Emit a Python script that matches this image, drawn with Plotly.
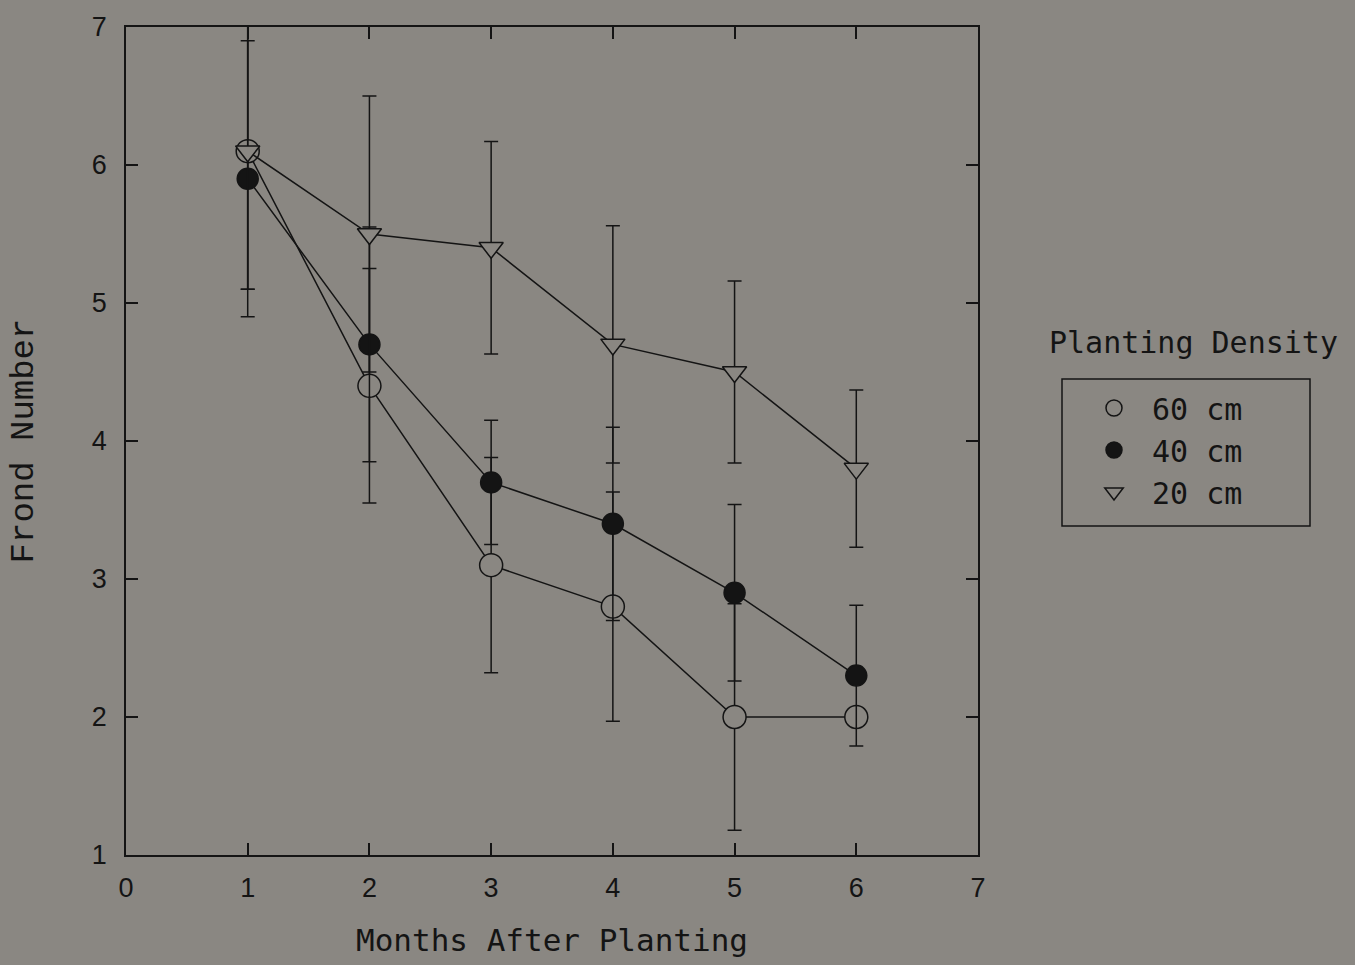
import plotly.graph_objects as go

months = [1, 2, 3, 4, 5, 6]
series_names = ["60 cm", "40 cm", "20 cm"]
frond_60 = [6.1, 4.4, 3.1, 2.8, 2.0, 2.0]
err_60 = [1.0, 0.85, 0.78, 0.83, 0.82, 0.0]
frond_40 = [5.9, 4.7, 3.7, 3.4, 2.9, 2.3]
err_40 = [1.0, 0.85, 0.45, 0.7, 0.64, 0.51]
frond_20 = [6.1, 5.5, 5.4, 4.7, 4.5, 3.8]
err_20 = [1.0, 1.0, 0.77, 0.86, 0.66, 0.57]
x_ticks = [0, 1, 2, 3, 4, 5, 6, 7]
y_ticks = [1, 2, 3, 4, 5, 6, 7]

BG = "#8a8782"
INK = "#141414"

W, H = 1355, 965
L, R, T, B = 126, 978, 27, 855


def px(xp):
    return (xp - L) / (R - L)


def py(yp):
    return (B - yp) / (B - T)


fig = go.Figure()
styles = [
    dict(symbol="circle", color=BG, size=23),
    dict(symbol="circle", color=INK, size=21),
    dict(symbol="triangle-down", color=BG, size=21),
]
for name, ys, es, st in zip(series_names, [frond_60, frond_40, frond_20],
                            [err_60, err_40, err_20], styles):
    fig.add_trace(go.Scatter(
        x=months, y=ys, name=name, mode="lines+markers", showlegend=False,
        line=dict(color=INK, width=1.5),
        marker=dict(symbol=st["symbol"], color=st["color"], size=st["size"],
                    line=dict(color=INK, width=1.5)),
        error_y=dict(type="data", array=es, visible=True, color=INK,
                     thickness=1.5, width=7),
    ))

# marker-only legend entries
for name, st in zip(series_names, styles):
    fig.add_trace(go.Scatter(
        x=[None], y=[None], name="\u00a0" + name, mode="markers",
        marker=dict(symbol=st["symbol"], color=st["color"], size=st["size"],
                    line=dict(color=INK, width=1.5)),
    ))

axis_common = dict(
    showline=True, linecolor=INK, linewidth=1.5, mirror="ticks",
    ticks="inside", ticklen=12, tickwidth=1.5, tickcolor=INK,
    showgrid=False, zeroline=False,
    tickfont=dict(family="Liberation Sans", size=27, color=INK),
)

fig.update_layout(
    width=W, height=H,
    margin=dict(l=L, r=W - R, t=T, b=H - B),
    paper_bgcolor=BG, plot_bgcolor=BG,
    xaxis=dict(range=[0, 7], tickvals=x_ticks, ticklabelstandoff=8,
               title=dict(text="Months After Planting", standoff=27,
                          font=dict(family="DejaVu Sans Mono", size=31, color=INK)),
               **axis_common),
    yaxis=dict(range=[1, 7], tickvals=y_ticks, ticklabelstandoff=12,
               title=dict(text="Frond Number", standoff=48,
                          font=dict(family="Liberation Mono", size=34, color=INK)),
               **axis_common),
    showlegend=True,
    legend=dict(
        x=px(1094), y=py(382), xanchor="left", yanchor="top",
        bgcolor="rgba(0,0,0,0)", borderwidth=0,
        font=dict(family="DejaVu Sans Mono", size=30, color=INK),
        itemclick=False,
    ),
    shapes=[dict(type="rect", xref="paper", yref="paper",
                 x0=px(1062), x1=px(1310), y0=py(526), y1=py(379),
                 line=dict(color=INK, width=1.5))],
    annotations=[dict(text="Planting Density", xref="paper", yref="paper",
                      x=px(1193), y=py(342), showarrow=False,
                      xanchor="center", yanchor="middle",
                      font=dict(family="DejaVu Sans Mono", size=30, color=INK))],
)

fig.write_html("out.html")
